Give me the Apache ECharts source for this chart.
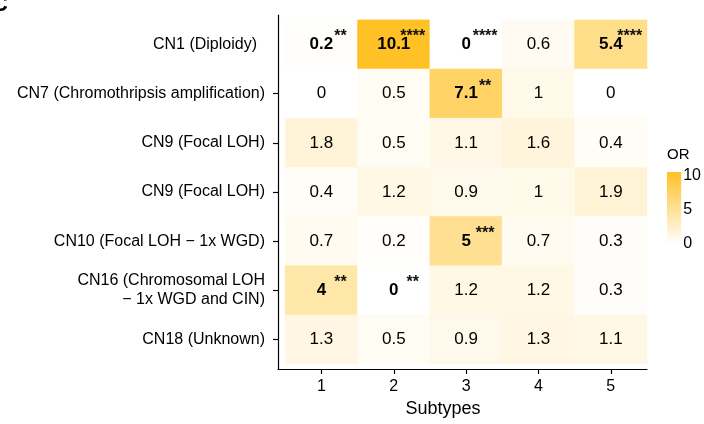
<!DOCTYPE html>
<html>
<head>
<meta charset="utf-8">
<script src="https://cdn.jsdelivr.net/npm/echarts@6/dist/echarts.min.js"></script>
<style>
  html, body { margin: 0; padding: 0; background: #fff; }
  #chart { width: 704px; height: 424px; }
</style>
</head>
<body>
<div id="chart"></div>
<script>
// Copy-number signatures (rows) against subtypes (columns): odds ratios
const subtypes = ['1', '2', '3', '4', '5'];
const programs = [
  'CN1 (Diploidy)',
  'CN7 (Chromothripsis amplification)',
  'CN9 (Focal LOH)',
  'CN9 (Focal LOH)',
  'CN10 (Focal LOH \u2212 1x WGD)',
  'CN16 (Chromosomal LOH\n\u2212 1x WGD and CIN)',
  'CN18 (Unknown)'
];
const orCN1  = [0.2, 10.1, 0, 0.6, 5.4];
const orCN7  = [0, 0.5, 7.1, 1, 0];
const orCN9a = [1.8, 0.5, 1.1, 1.6, 0.4];
const orCN9b = [0.4, 1.2, 0.9, 1, 1.9];
const orCN10 = [0.7, 0.2, 5, 0.7, 0.3];
const orCN16 = [4, 0, 1.2, 1.2, 0.3];
const orCN18 = [1.3, 0.5, 0.9, 1.3, 1.1];
const orRows = [orCN1, orCN7, orCN9a, orCN9b, orCN10, orCN16, orCN18];

// significance marks per cell
const sigCN1  = ['**', '****', '****', '', '****'];
const sigCN7  = ['', '', '**', '', ''];
const sigCN9a = ['', '', '', '', ''];
const sigCN9b = ['', '', '', '', ''];
const sigCN10 = ['', '', '***', '', ''];
const sigCN16 = ['**', '**', '', '', ''];
const sigCN18 = ['', '', '', '', ''];
const sigRows = [sigCN1, sigCN7, sigCN9a, sigCN9b, sigCN10, sigCN16, sigCN18];

const legendTicks = [0, 5, 10];
const orMax = 10.1;
const barTop = 10.6;

const LOW = '#FFFFFF';
const HIGH = '#FFC125';
const FONT = '"Liberation Sans", Arial, Helvetica, sans-serif';

const cells = [];
orRows.forEach((row, r) => {
  row.forEach((v, c) => {
    cells.push([c + 1, r + 1, v, sigRows[r][c]]);
  });
});

function renderCell(params, api) {
  const x = api.value(0), y = api.value(1), v = api.value(2);
  const sig = cells[params.dataIndex][3];
  const a = api.coord([x - 0.5, y - 0.5]);
  const b = api.coord([x + 0.5, y + 0.5]);
  const c = api.coord([x, y]);
  const fill = api.visual('color');
  const children = [
    {
      type: 'rect',
      shape: {
        x: Math.min(a[0], b[0]), y: Math.min(a[1], b[1]),
        width: Math.abs(b[0] - a[0]), height: Math.abs(b[1] - a[1])
      },
      style: { fill: fill, stroke: fill, lineWidth: 0.6 }
    },
    {
      type: 'text', x: c[0], y: c[1],
      style: {
        text: String(v), fontSize: 17, fontFamily: FONT,
        fontWeight: sig ? 'bold' : 'normal', fill: '#000',
        align: 'center', verticalAlign: 'middle'
      }
    }
  ];
  if (sig) {
    children.push({
      type: 'text', x: c[0] + 19, y: c[1] - 7.5,
      style: {
        text: sig, fontSize: 16, fontFamily: FONT, fontWeight: 'bold',
        fill: '#111', align: 'center', verticalAlign: 'middle'
      }
    });
  }
  return { type: 'group', children: children };
}

function renderColorbar(params, api) {
  const a = api.coord([0, 0]);
  const b = api.coord([1, api.value(1)]);
  return {
    type: 'rect',
    shape: { x: a[0], y: b[1], width: b[0] - a[0], height: a[1] - b[1] },
    style: {
      fill: {
        type: 'linear', x: 0, y: 1, x2: 0, y2: 0,
        colorStops: [{ offset: 0, color: LOW }, { offset: 1, color: HIGH }]
      }
    }
  };
}

const chart = echarts.init(document.getElementById('chart'), null, { renderer: 'canvas' });

chart.setOption({
  animation: false,
  backgroundColor: '#fff',
  textStyle: { fontFamily: FONT, color: '#000' },
  title: [
    { text: 'C', left: -8, top: -6, padding: 0, textStyle: { fontSize: 22, fontWeight: 'bold', color: '#000', fontFamily: FONT } },
    { text: 'OR', left: 667, top: 147, padding: 0, textStyle: { fontSize: 15, fontWeight: 'normal', color: '#000', fontFamily: FONT } }
  ],
  grid: [
    { left: 278, top: 15, width: 369, height: 354 },
    { left: 667, top: 172, width: 16, height: 72 }
  ],
  visualMap: {
    show: false, type: 'continuous', min: 0, max: orMax,
    dimension: 2, seriesIndex: 0,
    inRange: { color: [LOW, HIGH] }
  },
  xAxis: [
    {
      gridIndex: 0, type: 'value', min: 0.4, max: 5.5,
      splitLine: { show: false },
      axisLine: { show: true, lineStyle: { color: '#000', width: 1.2 } },
      axisTick: { show: true, length: 5, customValues: subtypes.map((s, i) => i + 1), lineStyle: { color: '#000', width: 1.2 } },
      axisLabel: {
        customValues: subtypes.map((s, i) => i + 1),
        formatter: v => subtypes[v - 1], fontSize: 16, color: '#000', margin: 10, fontFamily: FONT
      },
      name: 'Subtypes', nameLocation: 'middle', nameGap: 30,
      nameTextStyle: { fontSize: 18, color: '#000', fontFamily: FONT, padding: [0, 39, 0, 0] }
    },
    { gridIndex: 1, type: 'value', min: 0, max: 1, show: false }
  ],
  yAxis: [
    {
      gridIndex: 0, type: 'value', inverse: true, min: 0.4, max: 7.6,
      splitLine: { show: false },
      axisLine: { show: true, lineStyle: { color: '#000', width: 1.2 } },
      axisTick: { show: true, length: 5, customValues: [2, 3, 4, 5, 6, 7], lineStyle: { color: '#000', width: 1.2 } },
      axisLabel: {
        customValues: programs.map((p, i) => i + 1),
        formatter: v => (v === 1 ? '{first|' + programs[0] + '}' : programs[v - 1]),
        rich: { first: { fontSize: 16, color: '#000', fontFamily: FONT, padding: [0, 8, 0, 0] } },
        fontSize: 16, lineHeight: 19, color: '#000', margin: 13, align: 'right', fontFamily: FONT
      }
    },
    {
      gridIndex: 1, type: 'value', min: 0, max: barTop, position: 'right',
      splitLine: { show: false },
      axisLine: { show: false },
      axisTick: { show: true, inside: true, length: 3, customValues: legendTicks, lineStyle: { color: '#fff', width: 1 } },
      axisLabel: { customValues: legendTicks, fontSize: 16, color: '#000', margin: 2, fontFamily: FONT }
    }
  ],
  series: [
    {
      type: 'custom', xAxisIndex: 0, yAxisIndex: 0,
      renderItem: renderCell,
      encode: { x: 0, y: 1 },
      data: cells.map(d => [d[0], d[1], d[2]]),
      z: 1
    },
    {
      type: 'custom', xAxisIndex: 1, yAxisIndex: 1,
      renderItem: renderColorbar,
      encode: { x: 0, y: 1 },
      data: [[1, barTop]],
      z: 1
    }
  ]
});
</script>
</body>
</html>
